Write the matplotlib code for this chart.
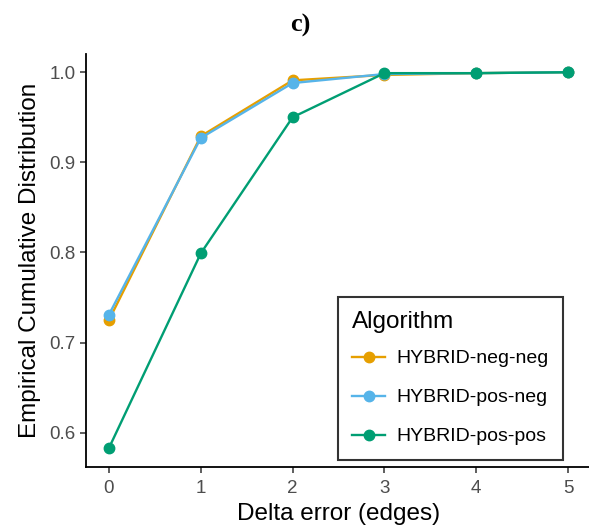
import matplotlib
matplotlib.use("Agg")
import matplotlib.pyplot as plt

delta = [0, 1, 2, 3, 4, 5]
neg_neg = [0.725, 0.929, 0.991, 0.997, 0.999, 1.000]
pos_neg = [0.731, 0.927, 0.988, 0.998, 0.999, 1.000]
pos_pos = [0.583, 0.799, 0.950, 0.999, 0.999, 1.000]
names = ["HYBRID-neg-neg", "HYBRID-pos-neg", "HYBRID-pos-pos"]
colors = ["#E69F00", "#56B4E9", "#009E73"]

plt.rcParams["font.family"] = ["Liberation Sans", "DejaVu Sans"]

fig = plt.figure(figsize=(5.89, 5.27), dpi=100)
W, H = 589, 527
ax = fig.add_axes([86 / W, (H - 466.5) / H, (591 - 86) / W, (466.5 - 53.5) / H])

for vals, name, col in zip([neg_neg, pos_neg, pos_pos], names, colors):
    ax.plot(delta, vals, color=col, lw=1.7, marker="o", ms=7.5, label=name)

ax.set_xlim(-0.25, 5.25)
ax.set_ylim(0.5625, 1.0208)
ax.set_xticks(delta)
ax.set_yticks([0.6, 0.7, 0.8, 0.9, 1.0])
ax.set_yticklabels(["0.6", "0.7", "0.8", "0.9", "1.0"])
ax.tick_params(labelsize=13.5, labelcolor="#4D4D4D", length=4, width=1.1, color="#333333")
ax.tick_params(axis="x", pad=6)
for s in ["top", "right"]:
    ax.spines[s].set_visible(False)
for s in ["left", "bottom"]:
    ax.spines[s].set_linewidth(1.3)

ax.set_xlabel("Delta error (edges)", fontsize=17.5, labelpad=4)
ax.set_ylabel("Empirical Cumulative Distribution", fontsize=17.5, labelpad=6)

fig.text(300 / W, 1 - 25 / H, "c)", fontsize=19, fontweight="bold",
         family="Liberation Serif", ha="center", va="center")

leg = ax.legend(title="Algorithm", loc="lower right",
                bbox_to_anchor=((563 - 86) / (591 - 86), (466.5 - 460) / (466.5 - 53.5)),
                fontsize=14, title_fontsize=17.5, frameon=True, fancybox=False,
                edgecolor="black", handlelength=1.7, handletextpad=0.55,
                labelspacing=1.1, borderpad=0.75, borderaxespad=0,
                alignment="left")
leg.get_frame().set_linewidth(1.5)
leg._legend_box.sep = 12

fig.savefig("out.png", dpi=100)
